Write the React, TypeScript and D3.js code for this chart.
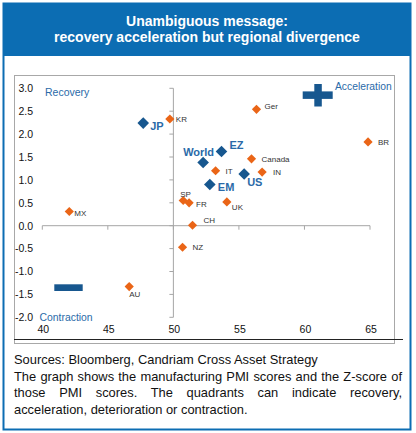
import React from "react";
import * as d3 from "d3";

const orangeNames = ["KR", "Ger", "BR", "Canada", "IT", "IN", "SP", "FR", "UK", "CH", "NZ", "MX", "AU"];
const orangePMI = [49.73, 56.34, 64.85, 55.96, 53.22, 56.77, 50.75, 51.2, 54.08, 51.46, 50.7, 42.06, 46.63];
const orangeZ = [2.33, 2.54, 1.83, 1.46, 1.2, 1.17, 0.55, 0.5, 0.52, 0.01, -0.47, 0.31, -1.33];

const blueNames = ["JP", "World", "EZ", "EM", "US"];
const bluePMI = [47.7, 52.27, 53.67, 52.78, 55.4];
const blueZ = [2.24, 1.38, 1.62, 0.9, 1.13];

const xTicks = [40, 45, 50, 55, 60, 65];
const yTicks = [3.0, 2.5, 2.0, 1.5, 1.0, 0.5, 0.0, -0.5, -1.0, -1.5, -2.0];

const titleLines = ["Unambiguous message:", "recovery acceleration but regional divergence"];
const quadrantLabels = ["Recovery", "Acceleration", "Contraction"];
const sourceText = "Sources: Bloomberg, Candriam Cross Asset Strategy";
const noteText =
  "The graph shows the manufacturing PMI scores and the Z-score of those PMI scores. The quadrants can indicate recovery, acceleration, deterioration or contraction.";

// label offsets [dx, dy(baseline), anchor]
const orangeLabelPos: Record<string, [number, number, string]> = {
  KR: [6, 3, "start"],
  Ger: [8, 0, "start"],
  BR: [10, 3, "start"],
  Canada: [10, 3, "start"],
  IT: [10, 3, "start"],
  IN: [11, 3, "start"],
  SP: [-3, -4, "start"],
  FR: [7, 4, "start"],
  UK: [5, 8, "start"],
  CH: [11, -2, "start"],
  NZ: [10, 3, "start"],
  MX: [5, 4, "start"],
  AU: [0, 10, "start"],
};
const blueLabelPos: Record<string, [number, number, string]> = {
  JP: [7, 6.5, "start"],
  World: [-20, -6, "start"],
  EZ: [8, -3, "start"],
  EM: [8, 6.5, "start"],
  US: [3, 12, "start"],
};

const ORANGE = "#ea6517";
const BLUE = "#17578f";
const HEADER = "#0c6db3";
const LABELBLUE = "#2a6aa8";
const FONT = "Arial, 'Liberation Sans', sans-serif";

function diamond(cx: number, cy: number, r: number) {
  return `M${cx},${cy - r}L${cx + r},${cy}L${cx},${cy + r}L${cx - r},${cy}Z`;
}

export default function App() {
  const x = d3.scaleLinear().domain([40, 65]).range([42.3, 370]);
  const y = d3.scaleLinear().domain([-2, 3]).range([317.3, 88.3]);
  const x0 = x(50);
  const y0 = y(0);

  return (
    <div style={{ position: "absolute", left: 0, top: 0, width: 416, height: 433, background: "#fff" }}>
      <svg width={416} height={433} style={{ position: "absolute", left: 0, top: 0 }} fontFamily={FONT}>
        <rect x={3.5} y={3.5} width={407} height={426} fill="#fff" stroke={HEADER} strokeWidth={2} />
        <rect x={3} y={3} width={408} height={53} fill={HEADER} />
        {titleLines.map((t, i) => (
          <text key={t} x={207} y={26 + i * 15.5} textAnchor="middle" fill="#fff" fontWeight="bold" fontSize={14}>
            {t}
          </text>
        ))}
        {/* chart box */}
        <rect x={14.5} y={75.5} width={380} height={268} fill="none" stroke="#a8a8a8" strokeWidth={1} />
        <line x1={14} x2={403} y1={339.5} y2={339.5} stroke="#222" strokeWidth={1} />

        {/* vertical axis */}
        <line x1={x0} x2={x0} y1={y(3)} y2={y(-2)} stroke="#a6a6a6" strokeWidth={1} />
        {yTicks.map((t) => (
          <g key={t}>
            <line x1={x0 - 4} x2={x0} y1={y(t)} y2={y(t)} stroke="#a6a6a6" />
            <text x={33} y={y(t) + 3.8} textAnchor="end" fontSize={10.5} fill="#111">
              {t.toFixed(1)}
            </text>
          </g>
        ))}
        {/* horizontal axis */}
        <line x1={x(40)} x2={x(65)} y1={y0} y2={y0} stroke="#a6a6a6" strokeWidth={1} />
        {xTicks.map((t) => (
          <g key={t}>
            <line x1={x(t)} x2={x(t)} y1={y0} y2={y0 + 4} stroke="#a6a6a6" />
            <text x={x(t) + 1} y={333} textAnchor="middle" fontSize={10.5} fill="#111">
              {t}
            </text>
          </g>
        ))}

        {/* quadrant labels */}
        <text x={45} y={96} fontSize={10.5} fill={LABELBLUE}>{quadrantLabels[0]}</text>
        <text x={335} y={90} fontSize={10.3} fill={LABELBLUE}>{quadrantLabels[1]}</text>
        <text x={39.5} y={321} fontSize={10.4} fill={LABELBLUE}>{quadrantLabels[2]}</text>
        {/* plus and minus signs */}
        <rect x={302.7} y={91.4} width={30} height={7.5} fill={BLUE} />
        <rect x={314.3} y={84} width={7.5} height={22.5} fill={BLUE} />
        <rect x={54.3} y={284.3} width={28.4} height={6.7} fill={BLUE} />

        {/* orange points */}
        {orangeNames.map((n, i) => {
          const cx = x(orangePMI[i]);
          const cy = y(orangeZ[i]);
          const [dx, dy, anchor] = orangeLabelPos[n];
          return (
            <g key={n}>
              <path d={diamond(cx, cy, 4.6)} fill={ORANGE} />
              <text x={cx + dx} y={cy + dy} fontSize={8} fill="#333" textAnchor={anchor}>
                {n}
              </text>
            </g>
          );
        })}
        {/* blue points */}
        {blueNames.map((n, i) => {
          const cx = x(bluePMI[i]);
          const cy = y(blueZ[i]);
          const [dx, dy, anchor] = blueLabelPos[n];
          return (
            <g key={n}>
              <path d={diamond(cx, cy, 5.8)} fill={BLUE} />
              <text x={cx + dx} y={cy + dy} fontSize={11} fontWeight="bold" fill={LABELBLUE} textAnchor={anchor}>
                {n}
              </text>
            </g>
          );
        })}
      </svg>
      <div
        style={{
          position: "absolute",
          left: 14,
          top: 352,
          width: 388,
          fontFamily: FONT,
          fontSize: 12.9,
          lineHeight: "16.7px",
          color: "#111",
          textAlign: "justify",
        }}
      >
        <div>{sourceText}</div>
        <div>{noteText}</div>
      </div>
    </div>
  );
}
